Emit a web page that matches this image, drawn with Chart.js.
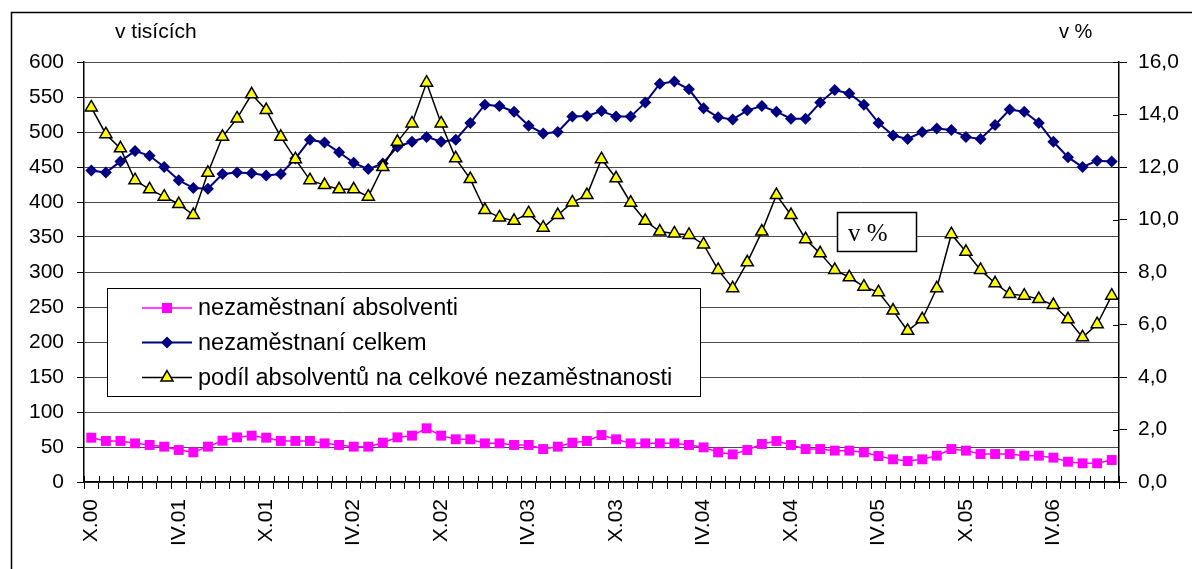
<!DOCTYPE html>
<html>
<head>
<meta charset="utf-8">
<script src="https://cdn.jsdelivr.net/npm/chart.js@4.4.1/dist/chart.umd.min.js"></script>
<style>
html,body{margin:0;padding:0;background:#fff;}
#wrap{position:relative;width:1192px;height:569px;}
</style>
</head>
<body>
<div id="wrap"><canvas id="c" width="1192" height="569"></canvas></div>
<script>
const categories = [
 'X.00','XI.00','XII.00',
 'I.01','II.01','III.01','IV.01','V.01','VI.01','VII.01','VIII.01','IX.01','X.01','XI.01','XII.01',
 'I.02','II.02','III.02','IV.02','V.02','VI.02','VII.02','VIII.02','IX.02','X.02','XI.02','XII.02',
 'I.03','II.03','III.03','IV.03','V.03','VI.03','VII.03','VIII.03','IX.03','X.03','XI.03','XII.03',
 'I.04','II.04','III.04','IV.04','V.04','VI.04','VII.04','VIII.04','IX.04','X.04','XI.04','XII.04',
 'I.05','II.05','III.05','IV.05','V.05','VI.05','VII.05','VIII.05','IX.05','X.05','XI.05','XII.05',
 'I.06','II.06','III.06','IV.06','V.06','VI.06','VII.06','VIII.06'
];
const absolventi = [
 63.3,58.6,58.6,55.2,52.9,50.5,45.7,42.4,50.5,59,
 63.8,66.2,63.3,58.6,58.6,58.6,55.2,52.9,50.5,50.5,
 56.2,63.8,66.2,76.7,66.2,61,61,55.2,55.2,52.9,
 52.9,47.1,50.5,56.2,58.6,67.1,61,55.2,55.2,55.2,
 55.2,52.9,49.5,42.4,39.5,45.7,54.3,58.6,52.9,47.1,
 47.1,44.8,44.8,42.4,37.1,32.4,30,32.4,37.6,47.1,
 44.8,40,40,40,37.6,37.6,34.8,29,26.7,26.7,31.4
];
const celkem = [
 445,442,458,473,466,450,431,420,419,440,
 442,441,438,440,462,489,485,471,456,447,
 455,479,486,493,486,489,513,539,537,529,
 509,498,500,522,523,530,522,522,542,569,
 572,561,534,521,518,531,537,529,519,519,
 542,560,555,539,513,495,490,500,505,503,
 493,490,510,532,529,513,486,464,450,459,458
];
const podil = [
 14.27,13.25,12.71,11.5,11.15,10.87,10.59,10.17,11.78,13.15,
 13.85,14.77,14.17,13.15,12.3,11.5,11.31,11.15,11.15,10.87,
 12.0,12.96,13.66,15.21,13.66,12.33,11.54,10.36,10.08,9.95,
 10.24,9.69,10.17,10.65,10.93,12.3,11.57,10.64,9.95,9.54,
 9.47,9.41,9.05,8.08,7.38,8.37,9.54,10.93,10.17,9.25,
 8.71,8.08,7.8,7.44,7.23,6.53,5.76,6.2,7.38,9.44,
 8.77,8.08,7.57,7.16,7.1,6.97,6.74,6.2,5.51,6.01,7.1
];
const seriesNames = ['nezaměstnaní absolventi','nezaměstnaní celkem','podíl absolventů na celkové nezaměstnanosti'];
const leftTitle = 'v tisících';
const rightTitle = 'v %';
const boxLabel = 'v %';

const FONT = '"Liberation Sans", Arial, sans-serif';

function drawMarker(ctx, style, x, y){
  ctx.beginPath();
  if(style==='rect'){
    ctx.rect(x-5,y-5,10,10);
    ctx.fillStyle='#FF00FF'; ctx.fill();
  } else if(style==='rectRot'){
    ctx.moveTo(x,y-6); ctx.lineTo(x+6,y); ctx.lineTo(x,y+6); ctx.lineTo(x-6,y); ctx.closePath();
    ctx.fillStyle='#000080'; ctx.fill();
  } else {
    const r=7;
    ctx.moveTo(x,y-r); ctx.lineTo(x+r*0.866,y+r*0.5); ctx.lineTo(x-r*0.866,y+r*0.5); ctx.closePath();
    ctx.fillStyle='#FFFF00'; ctx.fill(); ctx.lineWidth=1.5; ctx.strokeStyle='#000'; ctx.stroke();
  }
}

const decor = {
  id:'decor',
  beforeDraw(chart){
    const ctx=chart.ctx;
    ctx.save();
    ctx.fillStyle='#fff'; ctx.fillRect(0,0,chart.width,chart.height);
    ctx.strokeStyle='#000'; ctx.lineWidth=1.5;
    ctx.beginPath(); ctx.moveTo(11.5,chart.height); ctx.lineTo(11.5,12.5); ctx.lineTo(chart.width,12.5); ctx.stroke();
    ctx.fillStyle='#000'; ctx.textBaseline='alphabetic'; ctx.textAlign='left';
    ctx.font='21px '+FONT; ctx.fillText(leftTitle,115,37.5);
    ctx.font='20px '+FONT; ctx.fillText(rightTitle,1059,37.5);
    ctx.restore();
  },
  afterDraw(chart){
    const ctx=chart.ctx, xs=chart.scales.x, yr=chart.scales.y1;
    ctx.save();
    ctx.strokeStyle='#000'; ctx.lineWidth=1;
    // inward parts of tick marks
    const n=categories.length, step=xs.width/n;
    ctx.beginPath();
    for(let k=0;k<=n;k++){
      const px=Math.round(xs.left+k*step)+0.5;
      ctx.moveTo(px,xs.top); ctx.lineTo(px,xs.top-6);
    }
    for(let v=yr.min; v<=yr.max; v+=2){
      const py=Math.round(yr.getPixelForValue(v))+0.5;
      ctx.moveTo(yr.left,py); ctx.lineTo(yr.left-6,py);
    }
    ctx.stroke();
    // legend box
    const bx=107.5, by=288.5, bw=593, bh=108;
    ctx.fillStyle='#fff'; ctx.fillRect(bx,by,bw,bh);
    ctx.strokeStyle='#000'; ctx.lineWidth=1; ctx.strokeRect(bx,by,bw,bh);
    const rows=[19.5,54,89];
    const cols=['#FF00FF','#000080','#000000'];
    const widths=[1.5,2,1.5];
    const styles=['rect','rectRot','triangle'];
    ctx.font='23.5px '+FONT; ctx.textBaseline='middle'; ctx.textAlign='left';
    for(let i=0;i<3;i++){
      const yy=by+rows[i];
      ctx.beginPath(); ctx.strokeStyle=cols[i]; ctx.lineWidth=widths[i];
      ctx.moveTo(142,yy); ctx.lineTo(192,yy); ctx.stroke();
      drawMarker(ctx,styles[i],167,yy);
      ctx.fillStyle='#000'; ctx.fillText(seriesNames[i],198,yy+1);
    }
    // "v %" box
    ctx.fillStyle='#fff'; ctx.fillRect(837.5,212.5,79,39);
    ctx.strokeStyle='#000'; ctx.lineWidth=1.5; ctx.strokeRect(837.5,212.5,79,39);
    ctx.fillStyle='#000'; ctx.font='25px "Liberation Serif", "Times New Roman", serif';
    ctx.textBaseline='alphabetic'; ctx.fillText(boxLabel,848,241);
    ctx.restore();
  }
};

new Chart(document.getElementById('c'), {
  type:'line',
  data:{
    labels:categories,
    datasets:[
      {label:seriesNames[0], data:absolventi, yAxisID:'y', borderColor:'#FF00FF', backgroundColor:'#FF00FF',
       borderWidth:1.5, pointStyle:'rect', pointRadius:7, pointBorderWidth:0, pointBackgroundColor:'#FF00FF', tension:0, order:2},
      {label:seriesNames[1], data:celkem, yAxisID:'y', borderColor:'#000080', backgroundColor:'#000080',
       borderWidth:2, pointStyle:'rectRot', pointRadius:6, pointBorderWidth:0, pointBackgroundColor:'#000080', tension:0, order:1},
      {label:seriesNames[2], data:podil, yAxisID:'y1', borderColor:'#000000', backgroundColor:'#FFFF00',
       borderWidth:1.5, pointStyle:'triangle', pointRadius:7, pointBorderWidth:1.5, pointBorderColor:'#000',
       pointBackgroundColor:'#FFFF00', tension:0, order:0}
    ]
  },
  options:{
    responsive:false, animation:false, devicePixelRatio:1,
    layout:{padding:{top:62,left:0,right:0,bottom:0}},
    plugins:{legend:{display:false}, tooltip:{enabled:false}},
    scales:{
      x:{
        type:'category', offset:true,
        grid:{offset:true, drawOnChartArea:false, drawTicks:true, tickLength:7, color:'#000', tickColor:'#000', lineWidth:1},
        border:{display:true, color:'#000', width:1.5},
        ticks:{autoSkip:false, maxRotation:90, minRotation:90, padding:10, color:'#000', font:{family:FONT, size:21},
          callback:function(v,i){ return i%6===0 ? this.getLabelForValue(v) : ''; }},
        afterFit(s){ s.height=87; }
      },
      y:{
        position:'left', min:0, max:600,
        grid:{color:'#4a4a4a', tickColor:'#000', tickLength:7, lineWidth:1},
        border:{display:true, color:'#000', width:1.5},
        ticks:{stepSize:50, padding:13, color:'#000', font:{family:FONT, size:21}},
        afterFit(s){ s.width=84; }
      },
      y1:{
        position:'right', min:0, max:16,
        grid:{drawOnChartArea:false, tickColor:'#000', tickLength:8},
        border:{display:true, color:'#000', width:1.5},
        ticks:{stepSize:2, padding:11, color:'#000', font:{family:FONT, size:21},
          callback:function(v){ return v.toFixed(1).replace('.',','); }},
        afterFit(s){ s.width=73; }
      }
    }
  },
  plugins:[decor]
});
</script>
</body>
</html>
